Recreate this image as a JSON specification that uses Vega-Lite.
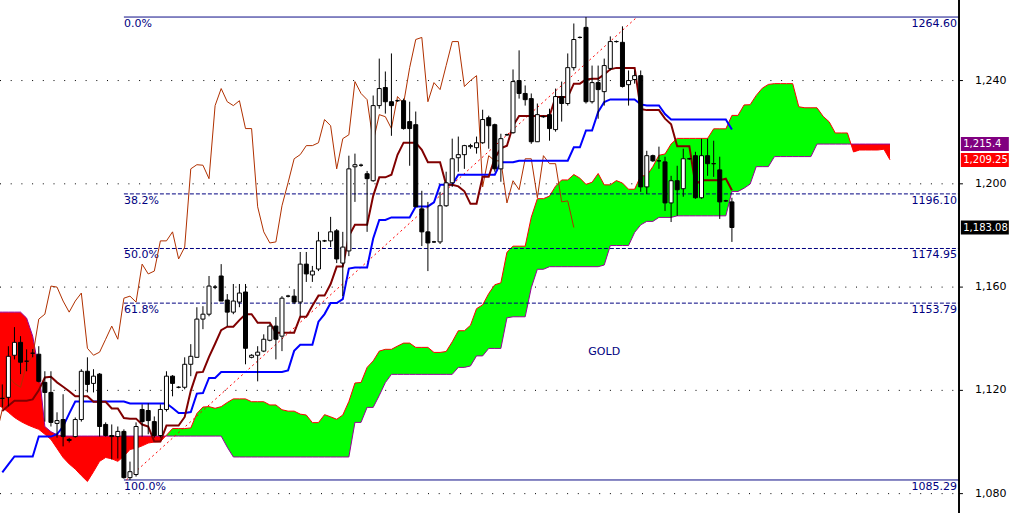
{
"$schema":"https://vega.github.io/schema/vega-lite/v6.json",
"width":959,"height":513,
"autosize":{"type":"none"},
"padding":{"left":0,"top":0,"right":50,"bottom":0},
"background":"white",
"view":{"stroke":null},
"config":{"font":"DejaVu Sans","scale":{"continuousPadding":0}},
"resolve":{"scale":{"color":"independent"}},
"datasets":{
"candles":[
{"i":0,"o":1116.9,"h":1122.3,"l":1113.4,"c":1116.9,"t":1112,"k":1088.2},
{"i":1,"o":1117.3,"h":1137.1,"l":1113.8,"c":1133.2,"t":1114,"k":1091.3},
{"i":2,"o":1133.6,"h":1144.5,"l":1132.0,"c":1138.6,"t":1116,"k":1094.4},
{"i":3,"o":1138.6,"h":1141.0,"l":1126.3,"c":1130.9,"t":1116,"k":1094.4},
{"i":4,"o":1131.3,"h":1135.9,"l":1127.4,"c":1131.3,"t":1116,"k":1094.4},
{"i":5,"o":1134.4,"h":1136.0,"l":1132.8,"c":1134.4,"t":1116.5,"k":1094.4},
{"i":6,"o":1134.0,"h":1137.1,"l":1123.1,"c":1123.5,"t":1120,"k":1102.1},
{"i":7,"o":1123.1,"h":1127.4,"l":1107.9,"c":1119.2,"t":1125,"k":1102.1},
{"i":8,"o":1119.2,"h":1127.4,"l":1106.0,"c":1107.6,"t":1125.25,"k":1102.1},
{"i":9,"o":1107.2,"h":1111.5,"l":1101.7,"c":1108.3,"t":1123.1,"k":1103},
{"i":10,"o":1108.7,"h":1118.5,"l":1098.3,"c":1102.1,"t":1121.4,"k":1106},
{"i":11,"o":1101.0,"h":1101.6,"l":1099.8,"c":1100.6,"t":1119.65,"k":1111},
{"i":12,"o":1102.1,"h":1109.5,"l":1101.7,"c":1108.7,"t":1117.7,"k":1115.7},
{"i":13,"o":1108.7,"h":1128.2,"l":1107.9,"c":1127.4,"t":1117.7,"k":1115.7},
{"i":14,"o":1127.4,"h":1132.8,"l":1119.2,"c":1122.3,"t":1117.7,"k":1115.7},
{"i":15,"o":1122.7,"h":1128.2,"l":1119.2,"c":1125.5,"t":1115.55,"k":1115.7},
{"i":16,"o":1126.3,"h":1126.7,"l":1102.1,"c":1106.0,"t":1115.55,"k":1115.7},
{"i":17,"o":1106.8,"h":1107.6,"l":1102.1,"c":1102.5,"t":1115.55,"k":1115.7},
{"i":18,"o":1102.5,"h":1106.8,"l":1093.2,"c":1102.1,"t":1113.0,"k":1115.7},
{"i":19,"o":1102.1,"h":1106.0,"l":1093.6,"c":1104.1,"t":1113.0,"k":1115.7},
{"i":20,"o":1104.1,"h":1104.9,"l":1085.8,"c":1086.2,"t":1109.3,"k":1115.7},
{"i":21,"o":1086.2,"h":1092.4,"l":1085.29,"c":1088.5,"t":1109.05,"k":1114.9},
{"i":22,"o":1087.4,"h":1107.6,"l":1086.6,"c":1106.0,"t":1109.05,"k":1114.9},
{"i":23,"o":1112.6,"h":1114.6,"l":1102.1,"c":1107.9,"t":1106.75,"k":1114.9},
{"i":24,"o":1112.2,"h":1115.0,"l":1103.0,"c":1108.3,"t":1106.0,"k":1114.9},
{"i":25,"o":1107.9,"h":1109.9,"l":1101.7,"c":1102.5,"t":1100.15,"k":1114.9},
{"i":26,"o":1102.5,"h":1114.6,"l":1101.7,"c":1112.6,"t":1100.15,"k":1114.9},
{"i":27,"o":1112.6,"h":1127.4,"l":1111.8,"c":1125.5,"t":1106.35,"k":1114.9},
{"i":28,"o":1125.5,"h":1125.9,"l":1117.7,"c":1122.7,"t":1106.35,"k":1113.15},
{"i":29,"o":1121.2,"h":1121.6,"l":1120.8,"c":1121.2,"t":1106.35,"k":1111.2},
{"i":30,"o":1121.2,"h":1132.8,"l":1120.4,"c":1130.1,"t":1109.7,"k":1111.2},
{"i":31,"o":1130.1,"h":1137.9,"l":1125.5,"c":1133.2,"t":1119.8,"k":1111.6},
{"i":32,"o":1132.8,"h":1152.2,"l":1132.8,"c":1147.6,"t":1126.95,"k":1118.75},
{"i":33,"o":1147.6,"h":1152.6,"l":1143.7,"c":1149.5,"t":1127.15,"k":1118.95},
{"i":34,"o":1149.5,"h":1164.3,"l":1148.7,"c":1160.4,"t":1133.0,"k":1124.8},
{"i":35,"o":1160.0,"h":1160.8,"l":1159.2,"c":1160.0,"t":1138.05,"k":1124.8},
{"i":36,"o":1164.3,"h":1168.9,"l":1154.6,"c":1154.6,"t":1143.3,"k":1127.1},
{"i":37,"o":1155.0,"h":1157.3,"l":1144.9,"c":1150.3,"t":1144.65,"k":1127.1},
{"i":38,"o":1150.3,"h":1161.2,"l":1149.5,"c":1154.6,"t":1144.65,"k":1127.1},
{"i":39,"o":1154.2,"h":1161.2,"l":1152.2,"c":1157.7,"t":1147.2,"k":1127.1},
{"i":40,"o":1158.1,"h":1161.2,"l":1130.1,"c":1136.3,"t":1149.5,"k":1127.1},
{"i":41,"o":1132.8,"h":1134.0,"l":1132.4,"c":1133.6,"t":1149.5,"k":1127.1},
{"i":42,"o":1133.6,"h":1137.1,"l":1123.5,"c":1134.8,"t":1146.2,"k":1127.1},
{"i":43,"o":1135.2,"h":1141.7,"l":1134.8,"c":1139.8,"t":1146.2,"k":1127.1},
{"i":44,"o":1139.4,"h":1145.6,"l":1139.0,"c":1144.9,"t":1146.2,"k":1127.1},
{"i":45,"o":1144.9,"h":1148.4,"l":1132.0,"c":1139.8,"t":1142.35,"k":1127.1},
{"i":46,"o":1141.0,"h":1156.5,"l":1135.2,"c":1155.7,"t":1142.35,"k":1127.1},
{"i":47,"o":1156.5,"h":1157.0,"l":1156.0,"c":1156.5,"t":1142.35,"k":1127.75},
{"i":48,"o":1156.5,"h":1159.2,"l":1153.4,"c":1154.2,"t":1142.35,"k":1135.3},
{"i":49,"o":1154.2,"h":1173.6,"l":1148.7,"c":1168.9,"t":1148.55,"k":1137.65},
{"i":50,"o":1168.9,"h":1173.6,"l":1162.0,"c":1165.1,"t":1148.55,"k":1137.65},
{"i":51,"o":1164.7,"h":1168.2,"l":1162.0,"c":1166.2,"t":1152.8,"k":1137.65},
{"i":52,"o":1167.0,"h":1181.4,"l":1166.2,"c":1177.9,"t":1156.7,"k":1146.6},
{"i":53,"o":1177.9,"h":1178.3,"l":1177.5,"c":1177.9,"t":1156.7,"k":1149.55},
{"i":54,"o":1177.9,"h":1187.2,"l":1175.5,"c":1181.4,"t":1161.2,"k":1153.8},
{"i":55,"o":1181.8,"h":1182.5,"l":1169.3,"c":1170.9,"t":1167.95,"k":1153.8},
{"i":56,"o":1169.3,"h":1181.4,"l":1156.5,"c":1175.5,"t":1167.95,"k":1155.35},
{"i":57,"o":1174.0,"h":1210.9,"l":1172.0,"c":1205.8,"t":1179.8,"k":1167.2},
{"i":58,"o":1206.6,"h":1211.7,"l":1193.0,"c":1207.4,"t":1184.1,"k":1167.6},
{"i":59,"o":1207.2,"h":1207.8,"l":1206.6,"c":1207.2,"t":1184.1,"k":1167.6},
{"i":60,"o":1203.9,"h":1205.0,"l":1181.4,"c":1202.0,"t":1184.1,"k":1167.6},
{"i":61,"o":1201.2,"h":1234.2,"l":1200.8,"c":1230.3,"t":1195.35,"k":1178.85},
{"i":62,"o":1230.3,"h":1248.5,"l":1229.1,"c":1236.9,"t":1202.5,"k":1186.0},
{"i":63,"o":1237.3,"h":1243.5,"l":1227.2,"c":1231.8,"t":1202.5,"k":1186.0},
{"i":64,"o":1231.8,"h":1250.5,"l":1218.6,"c":1230.3,"t":1203.5,"k":1187.0},
{"i":65,"o":1232.2,"h":1232.6,"l":1231.8,"c":1232.2,"t":1211.25,"k":1187.0},
{"i":66,"o":1232.2,"h":1233.0,"l":1221.0,"c":1221.4,"t":1215.95,"k":1187.0},
{"i":67,"o":1224.1,"h":1231.8,"l":1207.0,"c":1221.4,"t":1215.95,"k":1187.0},
{"i":68,"o":1222.9,"h":1228.0,"l":1191.1,"c":1191.1,"t":1215.95,"k":1191.25},
{"i":69,"o":1190.3,"h":1197.3,"l":1175.9,"c":1181.4,"t":1213.2,"k":1191.25},
{"i":70,"o":1181.4,"h":1193.0,"l":1166.2,"c":1177.1,"t":1208.35,"k":1191.25},
{"i":71,"o":1177.5,"h":1177.9,"l":1177.1,"c":1177.5,"t":1208.35,"k":1192.85},
{"i":72,"o":1177.5,"h":1196.9,"l":1176.7,"c":1191.5,"t":1208.35,"k":1199.6},
{"i":73,"o":1191.5,"h":1204.7,"l":1191.1,"c":1200.4,"t":1199.6,"k":1199.6},
{"i":74,"o":1200.4,"h":1217.5,"l":1198.8,"c":1209.7,"t":1199.6,"k":1199.6},
{"i":75,"o":1210.1,"h":1218.3,"l":1204.7,"c":1211.3,"t":1199.0,"k":1203.5},
{"i":76,"o":1211.3,"h":1215.1,"l":1205.8,"c":1214.8,"t":1197.1,"k":1203.5},
{"i":77,"o":1214.4,"h":1215.5,"l":1213.6,"c":1214.8,"t":1192.25,"k":1203.5},
{"i":78,"o":1214.0,"h":1218.3,"l":1211.7,"c":1215.9,"t":1192.25,"k":1203.5},
{"i":79,"o":1215.9,"h":1228.7,"l":1215.5,"c":1224.9,"t":1202.7,"k":1203.5},
{"i":80,"o":1225.6,"h":1226.4,"l":1213.6,"c":1222.5,"t":1202.7,"k":1203.5},
{"i":81,"o":1222.9,"h":1223.3,"l":1204.7,"c":1205.8,"t":1209.9,"k":1203.5},
{"i":82,"o":1205.8,"h":1219.4,"l":1200.8,"c":1217.5,"t":1213.75,"k":1208.35},
{"i":83,"o":1219.0,"h":1219.4,"l":1218.6,"c":1219.0,"t":1214.75,"k":1208.35},
{"i":84,"o":1219.8,"h":1244.3,"l":1219.4,"c":1239.6,"t":1222.55,"k":1208.35},
{"i":85,"o":1240.0,"h":1251.7,"l":1233.0,"c":1235.0,"t":1226.25,"k":1208.95},
{"i":86,"o":1235.0,"h":1238.1,"l":1230.3,"c":1232.6,"t":1226.25,"k":1208.95},
{"i":87,"o":1233.0,"h":1235.0,"l":1215.5,"c":1216.3,"t":1226.25,"k":1208.95},
{"i":88,"o":1216.3,"h":1231.1,"l":1216.3,"c":1226.8,"t":1226.25,"k":1208.95},
{"i":89,"o":1226.0,"h":1226.4,"l":1225.6,"c":1226.0,"t":1226.25,"k":1208.95},
{"i":90,"o":1226.8,"h":1229.1,"l":1216.7,"c":1221.4,"t":1226.25,"k":1208.95},
{"i":91,"o":1221.0,"h":1236.9,"l":1220.2,"c":1233.8,"t":1233.6,"k":1208.95},
{"i":92,"o":1233.8,"h":1239.6,"l":1224.1,"c":1231.1,"t":1233.6,"k":1208.95},
{"i":93,"o":1231.1,"h":1250.5,"l":1230.3,"c":1245.0,"t":1233.6,"k":1208.95},
{"i":94,"o":1245.0,"h":1262.1,"l":1243.9,"c":1255.9,"t":1238.8,"k":1214.15},
{"i":95,"o":1256.7,"h":1257.1,"l":1256.3,"c":1256.7,"t":1238.8,"k":1214.15},
{"i":96,"o":1260.6,"h":1264.6,"l":1231.1,"c":1231.8,"t":1240.45,"k":1220.65},
{"i":97,"o":1231.8,"h":1245.8,"l":1231.1,"c":1239.2,"t":1240.65,"k":1220.65},
{"i":98,"o":1239.2,"h":1245.8,"l":1225.2,"c":1236.5,"t":1240.65,"k":1227.85},
{"i":99,"o":1235.7,"h":1248.5,"l":1230.3,"c":1245.8,"t":1242.4,"k":1231.7},
{"i":100,"o":1244.7,"h":1257.1,"l":1243.9,"c":1255.1,"t":1244.35,"k":1232.7},
{"i":101,"o":1255.1,"h":1255.5,"l":1254.7,"c":1255.1,"t":1244.9,"k":1232.7},
{"i":102,"o":1254.8,"h":1261.0,"l":1237.3,"c":1237.7,"t":1244.9,"k":1232.7},
{"i":103,"o":1238.4,"h":1243.9,"l":1230.3,"c":1240.0,"t":1244.9,"k":1232.7},
{"i":104,"o":1240.4,"h":1243.9,"l":1238.8,"c":1241.9,"t":1244.9,"k":1232.7},
{"i":105,"o":1241.9,"h":1243.9,"l":1196.9,"c":1198.8,"t":1228.95,"k":1230.75},
{"i":106,"o":1198.8,"h":1212.8,"l":1196.1,"c":1210.9,"t":1228.55,"k":1230.35},
{"i":107,"o":1210.9,"h":1211.3,"l":1208.5,"c":1208.9,"t":1228.55,"k":1230.35},
{"i":108,"o":1208.9,"h":1214.4,"l":1205.8,"c":1208.9,"t":1228.55,"k":1230.35},
{"i":109,"o":1208.5,"h":1210.5,"l":1189.5,"c":1192.6,"t":1225.25,"k":1227.05},
{"i":110,"o":1192.6,"h":1203.1,"l":1185.2,"c":1201.2,"t":1223.1,"k":1224.9},
{"i":111,"o":1201.2,"h":1207.0,"l":1187.6,"c":1197.7,"t":1214.55,"k":1224.9},
{"i":112,"o":1198.1,"h":1213.6,"l":1195.0,"c":1209.7,"t":1214.55,"k":1224.9},
{"i":113,"o":1209.7,"h":1210.1,"l":1209.3,"c":1209.7,"t":1214.55,"k":1224.9},
{"i":114,"o":1210.9,"h":1212.4,"l":1194.2,"c":1194.6,"t":1199.8,"k":1224.9},
{"i":115,"o":1194.6,"h":1217.5,"l":1194.2,"c":1210.9,"t":1201.35,"k":1224.9},
{"i":116,"o":1210.9,"h":1217.5,"l":1203.1,"c":1207.8,"t":1201.35,"k":1224.9},
{"i":117,"o":1207.8,"h":1216.7,"l":1202.7,"c":1207.8,"t":1201.35,"k":1224.9},
{"i":118,"o":1205.4,"h":1210.5,"l":1186.4,"c":1193.0,"t":1201.35,"k":1224.9},
{"i":119,"o":1193.4,"h":1193.8,"l":1193.0,"c":1193.4,"t":1201.95,"k":1224.9},
{"i":120,"o":1193.0,"h":1194.6,"l":1177.5,"c":1183.08,"t":1197.5,"k":1221.05}
],
"chikou":[
{"i":-1,"v":1102.5},{"i":0,"v":1112.6},{"i":1,"v":1125.5},{"i":2,"v":1122.7},{"i":3,"v":1121.2},{"i":4,"v":1130.1},{"i":5,"v":1133.2},{"i":6,"v":1147.6},{"i":7,"v":1149.5},{"i":8,"v":1160.4},{"i":9,"v":1160.0},{"i":10,"v":1154.6},{"i":11,"v":1150.3},{"i":12,"v":1154.6},{"i":13,"v":1157.7},{"i":14,"v":1136.3},{"i":15,"v":1133.6},{"i":16,"v":1134.8},{"i":17,"v":1139.8},{"i":18,"v":1144.9},{"i":19,"v":1139.8},{"i":20,"v":1155.7},{"i":21,"v":1156.5},{"i":22,"v":1154.2},{"i":23,"v":1168.9},{"i":24,"v":1165.1},{"i":25,"v":1166.2},{"i":26,"v":1177.9},{"i":27,"v":1177.9},{"i":28,"v":1181.4},{"i":29,"v":1170.9},{"i":30,"v":1175.5},{"i":31,"v":1205.8},{"i":32,"v":1207.4},{"i":33,"v":1207.2},{"i":34,"v":1202.0},{"i":35,"v":1230.3},{"i":36,"v":1236.9},{"i":37,"v":1231.8},{"i":38,"v":1230.3},{"i":39,"v":1232.2},{"i":40,"v":1221.4},{"i":41,"v":1221.4},{"i":42,"v":1191.1},{"i":43,"v":1181.4},{"i":44,"v":1177.1},{"i":45,"v":1177.5},{"i":46,"v":1191.5},{"i":47,"v":1200.4},{"i":48,"v":1209.7},{"i":49,"v":1211.3},{"i":50,"v":1214.8},{"i":51,"v":1214.8},{"i":52,"v":1215.9},{"i":53,"v":1224.9},{"i":54,"v":1222.5},{"i":55,"v":1205.8},{"i":56,"v":1217.5},{"i":57,"v":1219.0},{"i":58,"v":1239.6},{"i":59,"v":1235.0},{"i":60,"v":1232.6},{"i":61,"v":1216.3},{"i":62,"v":1226.8},{"i":63,"v":1226.0},{"i":64,"v":1221.4},{"i":65,"v":1233.8},{"i":66,"v":1231.1},{"i":67,"v":1245.0},{"i":68,"v":1255.9},{"i":69,"v":1256.7},{"i":70,"v":1231.8},{"i":71,"v":1239.2},{"i":72,"v":1236.5},{"i":73,"v":1245.8},{"i":74,"v":1255.1},{"i":75,"v":1255.1},{"i":76,"v":1237.7},{"i":77,"v":1240.0},{"i":78,"v":1241.9},{"i":79,"v":1198.8},{"i":80,"v":1210.9},{"i":81,"v":1208.9},{"i":82,"v":1208.9},{"i":83,"v":1192.6},{"i":84,"v":1201.2},{"i":85,"v":1197.7},{"i":86,"v":1209.7},{"i":87,"v":1209.7},{"i":88,"v":1194.6},{"i":89,"v":1210.9},{"i":90,"v":1207.8},{"i":91,"v":1207.8},{"i":92,"v":1193.0},{"i":93,"v":1193.4},{"i":94,"v":1183.08}
],
"cloud":[
{"i":-1,"a":1114.5,"b":1150.3,"seg":"r1"},{"i":0,"a":1113.4,"b":1150.3,"seg":"r1"},{"i":1,"a":1111.5,"b":1150.3,"seg":"r1"},{"i":2,"a":1109.5,"b":1150.3,"seg":"r1"},{"i":3,"a":1108.0,"b":1150.3,"seg":"r1"},{"i":4,"a":1106.8,"b":1148.0,"seg":"r1"},{"i":5,"a":1105.8,"b":1141.0,"seg":"r1"},{"i":6,"a":1104.9,"b":1128.0,"seg":"r1"},{"i":7,"a":1103.0,"b":1106.0,"seg":"r1"},{"i":8,"a":1101.0,"b":1104.0,"seg":"r1"},{"i":9,"a":1097.5,"b":1102.8,"seg":"r1"},{"i":10,"a":1094.0,"b":1102.3,"seg":"r1"},{"i":11,"a":1091.5,"b":1102.3,"seg":"r1"},{"i":12,"a":1089.5,"b":1102.3,"seg":"r1"},{"i":13,"a":1087.0,"b":1102.3,"seg":"r1"},{"i":14,"a":1084.7,"b":1102.3,"seg":"r1"},{"i":15,"a":1088.5,"b":1102.3,"seg":"r1"},{"i":16,"a":1092.5,"b":1102.3,"seg":"r1"},{"i":17,"a":1094.0,"b":1102.3,"seg":"r1"},{"i":18,"a":1093.5,"b":1102.3,"seg":"r1"},{"i":19,"a":1092.5,"b":1102.3,"seg":"r1"},{"i":20,"a":1094.5,"b":1102.3,"seg":"r1"},{"i":21,"a":1097.1,"b":1102.3,"seg":"r1"},{"i":22,"a":1097.6,"b":1102.3,"seg":"r1"},{"i":23,"a":1098.5,"b":1102.3,"seg":"r1"},{"i":24,"a":1099.6,"b":1102.3,"seg":"r1"},{"i":25,"a":1100.0,"b":1102.3,"seg":"r1"},{"i":26,"a":1100.1,"b":1102.3,"seg":"r1"},{"i":26.86,"a":1102.3,"b":1102.3,"seg":"r1"},
{"i":26.86,"a":1102.3,"b":1102.3,"seg":"g"},{"i":27,"a":1102.65,"b":1102.3,"seg":"g"},{"i":28,"a":1105.2,"b":1102.3,"seg":"g"},{"i":29,"a":1105.2,"b":1102.3,"seg":"g"},{"i":30,"a":1105.2,"b":1102.3,"seg":"g"},{"i":31,"a":1105.45,"b":1102.3,"seg":"g"},{"i":32,"a":1111.05,"b":1102.3,"seg":"g"},{"i":33,"a":1113.55,"b":1102.3,"seg":"g"},{"i":34,"a":1113.7,"b":1102.3,"seg":"g"},{"i":35,"a":1113.05,"b":1102.3,"seg":"g"},{"i":36,"a":1113.7,"b":1102.3,"seg":"g"},{"i":37,"a":1115.3,"b":1098.0,"seg":"g"},{"i":38,"a":1116.7,"b":1094.2,"seg":"g"},{"i":39,"a":1116.7,"b":1094.2,"seg":"g"},{"i":40,"a":1116.7,"b":1094.2,"seg":"g"},{"i":41,"a":1115.6,"b":1094.2,"seg":"g"},{"i":42,"a":1115.6,"b":1094.2,"seg":"g"},{"i":43,"a":1115.6,"b":1094.2,"seg":"g"},{"i":44,"a":1114.35,"b":1094.2,"seg":"g"},{"i":45,"a":1114.35,"b":1094.2,"seg":"g"},{"i":46,"a":1112.5,"b":1094.2,"seg":"g"},{"i":47,"a":1111.95,"b":1094.2,"seg":"g"},{"i":48,"a":1111.95,"b":1094.2,"seg":"g"},{"i":49,"a":1110.8,"b":1094.2,"seg":"g"},{"i":50,"a":1110.45,"b":1094.2,"seg":"g"},{"i":51,"a":1107.5,"b":1094.2,"seg":"g"},{"i":52,"a":1107.5,"b":1094.2,"seg":"g"},{"i":53,"a":1110.6,"b":1094.2,"seg":"g"},{"i":54,"a":1109.75,"b":1094.2,"seg":"g"},{"i":55,"a":1108.8,"b":1094.2,"seg":"g"},{"i":56,"a":1110.45,"b":1094.2,"seg":"g"},{"i":57,"a":1115.7,"b":1094.2,"seg":"g"},{"i":58,"a":1122.85,"b":1107.6,"seg":"g"},{"i":59,"a":1123.05,"b":1107.6,"seg":"g"},{"i":60,"a":1128.9,"b":1113.4,"seg":"g"},{"i":61,"a":1131.4,"b":1113.4,"seg":"g"},{"i":62,"a":1135.2,"b":1118.0,"seg":"g"},{"i":63,"a":1135.9,"b":1123.0,"seg":"g"},{"i":64,"a":1135.9,"b":1126.2,"seg":"g"},{"i":65,"a":1137.15,"b":1126.2,"seg":"g"},{"i":66,"a":1138.3,"b":1126.2,"seg":"g"},{"i":67,"a":1138.3,"b":1126.2,"seg":"g"},{"i":68,"a":1136.65,"b":1126.2,"seg":"g"},{"i":69,"a":1136.65,"b":1126.2,"seg":"g"},{"i":70,"a":1136.65,"b":1126.2,"seg":"g"},{"i":71,"a":1134.7,"b":1126.2,"seg":"g"},{"i":72,"a":1134.7,"b":1126.2,"seg":"g"},{"i":73,"a":1135.05,"b":1126.2,"seg":"g"},{"i":74,"a":1138.8,"b":1126.2,"seg":"g"},{"i":75,"a":1143.1,"b":1128.9,"seg":"g"},{"i":76,"a":1143.1,"b":1128.9,"seg":"g"},{"i":77,"a":1145.2,"b":1129.45,"seg":"g"},{"i":78,"a":1151.65,"b":1133.35,"seg":"g"},{"i":79,"a":1153.1,"b":1133.35,"seg":"g"},{"i":80,"a":1157.5,"b":1136.25,"seg":"g"},{"i":81,"a":1160.9,"b":1136.25,"seg":"g"},{"i":82,"a":1161.65,"b":1136.25,"seg":"g"},{"i":83,"a":1173.5,"b":1148.1,"seg":"g"},{"i":84,"a":1175.85,"b":1148.5,"seg":"g"},{"i":85,"a":1175.85,"b":1148.5,"seg":"g"},{"i":86,"a":1175.85,"b":1148.5,"seg":"g"},{"i":87,"a":1187.1,"b":1159.75,"seg":"g"},{"i":88,"a":1194.25,"b":1166.9,"seg":"g"},{"i":89,"a":1194.25,"b":1166.9,"seg":"g"},{"i":90,"a":1195.25,"b":1167.9,"seg":"g"},{"i":91,"a":1199.1,"b":1167.9,"seg":"g"},{"i":92,"a":1201.5,"b":1167.9,"seg":"g"},{"i":93,"a":1201.5,"b":1167.9,"seg":"g"},{"i":94,"a":1203.6,"b":1167.9,"seg":"g"},{"i":95,"a":1202.2,"b":1167.9,"seg":"g"},{"i":96,"a":1199.8,"b":1167.9,"seg":"g"},{"i":97,"a":1200.6,"b":1167.9,"seg":"g"},{"i":98,"a":1204.0,"b":1167.9,"seg":"g"},{"i":99,"a":1199.6,"b":1168.55,"seg":"g"},{"i":100,"a":1199.6,"b":1176.1,"seg":"g"},{"i":101,"a":1201.25,"b":1176.1,"seg":"g"},{"i":102,"a":1200.3,"b":1176.1,"seg":"g"},{"i":103,"a":1197.9,"b":1176.1,"seg":"g"},{"i":104,"a":1197.9,"b":1181.15,"seg":"g"},{"i":105,"a":1203.1,"b":1184.1,"seg":"g"},{"i":106,"a":1203.1,"b":1185.45,"seg":"g"},{"i":107,"a":1206.7,"b":1185.45,"seg":"g"},{"i":108,"a":1211.05,"b":1187.0,"seg":"g"},{"i":109,"a":1211.55,"b":1187.0,"seg":"g"},{"i":110,"a":1215.45,"b":1187.0,"seg":"g"},{"i":111,"a":1217.6,"b":1187.6,"seg":"g"},{"i":112,"a":1217.6,"b":1187.6,"seg":"g"},{"i":113,"a":1217.6,"b":1187.6,"seg":"g"},{"i":114,"a":1217.6,"b":1187.6,"seg":"g"},{"i":115,"a":1217.6,"b":1187.6,"seg":"g"},{"i":116,"a":1217.6,"b":1187.6,"seg":"g"},{"i":117,"a":1221.3,"b":1187.6,"seg":"g"},{"i":118,"a":1221.3,"b":1187.6,"seg":"g"},{"i":119,"a":1221.3,"b":1187.6,"seg":"g"},{"i":120,"a":1226.5,"b":1197.05,"seg":"g"},{"i":121,"a":1226.5,"b":1197.05,"seg":"g"},{"i":122,"a":1230.55,"b":1198.3,"seg":"g"},{"i":123,"a":1230.65,"b":1199.9,"seg":"g"},{"i":124,"a":1234.25,"b":1206.65,"seg":"g"},{"i":125,"a":1237.05,"b":1206.65,"seg":"g"},{"i":126,"a":1238.5,"b":1206.65,"seg":"g"},{"i":127,"a":1238.8,"b":1210.55,"seg":"g"},{"i":128,"a":1238.8,"b":1210.55,"seg":"g"},{"i":129,"a":1238.8,"b":1210.55,"seg":"g"},{"i":130,"a":1238.8,"b":1210.55,"seg":"g"},{"i":131,"a":1229.85,"b":1210.55,"seg":"g"},{"i":132,"a":1229.45,"b":1210.55,"seg":"g"},{"i":133,"a":1229.45,"b":1210.55,"seg":"g"},{"i":134,"a":1229.45,"b":1215.4,"seg":"g"},{"i":135,"a":1226.15,"b":1215.4,"seg":"g"},{"i":136,"a":1224.0,"b":1215.4,"seg":"g"},{"i":137,"a":1219.7,"b":1215.4,"seg":"g"},{"i":138,"a":1219.7,"b":1215.4,"seg":"g"},{"i":139,"a":1219.7,"b":1215.4,"seg":"g"},{"i":139.585,"a":1215.4,"b":1215.4,"seg":"g"},
{"i":139.585,"a":1215.4,"b":1215.4,"seg":"r2"},{"i":140,"a":1212.35,"b":1215.4,"seg":"r2"},{"i":141,"a":1213.1,"b":1215.4,"seg":"r2"},{"i":142,"a":1213.1,"b":1215.4,"seg":"r2"},{"i":143,"a":1213.1,"b":1215.4,"seg":"r2"},{"i":144,"a":1213.1,"b":1215.4,"seg":"r2"},{"i":145,"a":1213.4,"b":1215.4,"seg":"r2"},{"i":146,"a":1209.3,"b":1215.4,"seg":"r2"}
],
"fib":[
{"v":1264.6,"pct":"0.0%","lab":"1264.60","kind":"solid"},
{"v":1196.1,"pct":"38.2%","lab":"1196.10","kind":"dash"},
{"v":1174.95,"pct":"50.0%","lab":"1174.95","kind":"dash"},
{"v":1153.79,"pct":"61.8%","lab":"1153.79","kind":"dash"},
{"v":1085.29,"pct":"100.0%","lab":"1085.29","kind":"solid"}
],
"trend":[{"i":20.4,"v":1085.29},{"i":104.4,"v":1264.6}],
"grid":[{"v":1080},{"v":1120},{"v":1160},{"v":1200},{"v":1240}],
"tags":[
{"v":1215.4,"lab":"1,215.4","col":"p"},
{"v":1209.25,"lab":"1,209.25","col":"r"},
{"v":1183.08,"lab":"1,183.08","col":"k"}
],
"title":[{"name":"GOLD"}]
},
"layer":[
{"data":{"name":"grid"},
 "mark":{"type":"rule","color":"#000000","strokeWidth":1,"strokeDash":[1,9.7]},
 "encoding":{
  "x":{"datum":-0.378,"type":"quantitative","scale":{"domain":[-0.378,157.35],"nice":false,"zero":false,"padding":0},"axis":null},
  "x2":{"datum":157.35},
  "y":{"field":"v","type":"quantitative","scale":{"domain":[1072.5,1271.2],"nice":false,"zero":false,"padding":0},"axis":null}
 }},
{"data":{"name":"cloud"},
 "mark":{"type":"area","clip":true,"interpolate":"linear","opacity":1},
 "encoding":{
  "x":{"field":"i","type":"quantitative","scale":{"domain":[-0.378,157.35],"nice":false,"zero":false,"padding":0},"axis":null},
  "y":{"field":"a","type":"quantitative","stack":null,"scale":{"domain":[1072.5,1271.2],"nice":false,"zero":false,"padding":0},"axis":null},
  "y2":{"field":"b"},
  "color":{"field":"seg","type":"nominal","scale":{"domain":["r1","g","r2"],"range":["#FF0000","#00FF00","#FF0000"]},"legend":null}
 }},
{"data":{"name":"cloud"},
 "mark":{"type":"line","clip":true,"color":"#990099","strokeWidth":1},
 "encoding":{
  "x":{"field":"i","type":"quantitative","scale":{"domain":[-0.378,157.35],"nice":false,"zero":false,"padding":0},"axis":null},
  "y":{"field":"b","type":"quantitative","scale":{"domain":[1072.5,1271.2],"nice":false,"zero":false,"padding":0},"axis":null}
 }},
{"data":{"name":"cloud"},
 "mark":{"type":"line","clip":true,"color":"#FF0000","strokeWidth":1},
 "encoding":{
  "x":{"field":"i","type":"quantitative","scale":{"domain":[-0.378,157.35],"nice":false,"zero":false,"padding":0},"axis":null},
  "y":{"field":"a","type":"quantitative","scale":{"domain":[1072.5,1271.2],"nice":false,"zero":false,"padding":0},"axis":null}
 }},
{"data":{"name":"fib"},
 "mark":{"type":"rule","color":"#000080","strokeWidth":1},
 "encoding":{
  "x":{"datum":20,"type":"quantitative","scale":{"domain":[-0.378,157.35],"nice":false,"zero":false,"padding":0},"axis":null},
  "x2":{"datum":157.35},
  "y":{"field":"v","type":"quantitative","scale":{"domain":[1072.5,1271.2],"nice":false,"zero":false,"padding":0},"axis":null},
  "strokeDash":{"field":"kind","type":"nominal","scale":{"domain":["solid","dash"],"range":[[1,0],[4,2]]},"legend":null}
 }},
{"data":{"name":"fib"},
 "mark":{"type":"text","align":"left","baseline":"top","dy":1,"color":"#000080","font":"DejaVu Sans","fontSize":11},
 "encoding":{
  "x":{"datum":20,"type":"quantitative","scale":{"domain":[-0.378,157.35],"nice":false,"zero":false,"padding":0},"axis":null},
  "y":{"field":"v","type":"quantitative","scale":{"domain":[1072.5,1271.2],"nice":false,"zero":false,"padding":0},"axis":null},
  "text":{"field":"pct"}
 }},
{"data":{"name":"fib"},
 "mark":{"type":"text","align":"right","baseline":"top","dy":1,"dx":-2,"color":"#000080","font":"DejaVu Sans","fontSize":11},
 "encoding":{
  "x":{"datum":157.35,"type":"quantitative","scale":{"domain":[-0.378,157.35],"nice":false,"zero":false,"padding":0},"axis":null},
  "y":{"field":"v","type":"quantitative","scale":{"domain":[1072.5,1271.2],"nice":false,"zero":false,"padding":0},"axis":null},
  "text":{"field":"lab"}
 }},
{"data":{"name":"trend"},
 "mark":{"type":"line","color":"#FF0000","strokeWidth":1,"strokeDash":[2,3]},
 "encoding":{
  "x":{"field":"i","type":"quantitative","scale":{"domain":[-0.378,157.35],"nice":false,"zero":false,"padding":0},"axis":null},
  "y":{"field":"v","type":"quantitative","scale":{"domain":[1072.5,1271.2],"nice":false,"zero":false,"padding":0},"axis":null}
 }},
{"data":{"name":"chikou"},
 "mark":{"type":"line","clip":true,"color":"#B03000","strokeWidth":1},
 "encoding":{
  "x":{"field":"i","type":"quantitative","scale":{"domain":[-0.378,157.35],"nice":false,"zero":false,"padding":0},"axis":null},
  "y":{"field":"v","type":"quantitative","scale":{"domain":[1072.5,1271.2],"nice":false,"zero":false,"padding":0},"axis":null}
 }},
{"data":{"name":"candles"},
 "mark":{"type":"line","color":"#0000FF","strokeWidth":2},
 "encoding":{
  "x":{"field":"i","type":"quantitative","scale":{"domain":[-0.378,157.35],"nice":false,"zero":false,"padding":0},"axis":null},
  "y":{"field":"k","type":"quantitative","scale":{"domain":[1072.5,1271.2],"nice":false,"zero":false,"padding":0},"axis":null}
 }},
{"data":{"name":"candles"},
 "mark":{"type":"line","color":"#800000","strokeWidth":2},
 "encoding":{
  "x":{"field":"i","type":"quantitative","scale":{"domain":[-0.378,157.35],"nice":false,"zero":false,"padding":0},"axis":null},
  "y":{"field":"t","type":"quantitative","scale":{"domain":[1072.5,1271.2],"nice":false,"zero":false,"padding":0},"axis":null}
 }},
{"data":{"name":"candles"},
 "mark":{"type":"rule","color":"#000000","strokeWidth":1},
 "encoding":{
  "x":{"field":"i","type":"quantitative","scale":{"domain":[-0.378,157.35],"nice":false,"zero":false,"padding":0},"axis":null},
  "y":{"field":"l","type":"quantitative","scale":{"domain":[1072.5,1271.2],"nice":false,"zero":false,"padding":0},"axis":null},
  "y2":{"field":"h"}
 }},
{"data":{"name":"candles"},
 "mark":{"type":"bar","size":4,"stroke":"#000000","strokeWidth":1,"orient":"vertical"},
 "encoding":{
  "x":{"field":"i","type":"quantitative","scale":{"domain":[-0.378,157.35],"nice":false,"zero":false,"padding":0},"axis":null},
  "y":{"field":"o","type":"quantitative","scale":{"domain":[1072.5,1271.2],"nice":false,"zero":false,"padding":0},"axis":null},
  "y2":{"field":"c"},
  "fill":{"condition":{"test":"datum.c >= datum.o","value":"#FFFFFF"},"value":"#000000"}
 }},
{"data":{"name":"title"},
 "mark":{"type":"text","align":"center","baseline":"middle","color":"#000080","font":"DejaVu Sans","fontSize":11},
 "encoding":{
  "x":{"datum":99,"type":"quantitative","scale":{"domain":[-0.378,157.35],"nice":false,"zero":false,"padding":0},"axis":null},
  "y":{"datum":1134.8,"type":"quantitative","scale":{"domain":[1072.5,1271.2],"nice":false,"zero":false,"padding":0},"axis":null},
  "text":{"field":"name"}
 }},
{"data":{"name":"grid"},
 "mark":{"type":"rule","color":"#000000","strokeWidth":1},
 "encoding":{
  "x":{"datum":157.35,"type":"quantitative","scale":{"domain":[-0.378,157.35],"nice":false,"zero":false,"padding":0},"axis":null},
  "y":{"datum":1072.5,"type":"quantitative","scale":{"domain":[1072.5,1271.2],"nice":false,"zero":false,"padding":0},"axis":null},
  "y2":{"datum":1271.2}
 }},
{"data":{"name":"grid"},
 "mark":{"type":"rule","color":"#000000","strokeWidth":1},
 "encoding":{
  "x":{"datum":157.35,"type":"quantitative","scale":{"domain":[-0.378,157.35],"nice":false,"zero":false,"padding":0},"axis":null},
  "x2":{"datum":158.0},
  "y":{"field":"v","type":"quantitative","scale":{"domain":[1072.5,1271.2],"nice":false,"zero":false,"padding":0},"axis":null}
 }},
{"data":{"name":"grid"},
 "mark":{"type":"text","align":"left","baseline":"middle","color":"#000000","font":"DejaVu Sans","fontSize":11},
 "encoding":{
  "x":{"datum":159.98,"type":"quantitative","scale":{"domain":[-0.378,157.35],"nice":false,"zero":false,"padding":0},"axis":null},
  "y":{"field":"v","type":"quantitative","scale":{"domain":[1072.5,1271.2],"nice":false,"zero":false,"padding":0},"axis":null},
  "text":{"field":"v","type":"quantitative","format":",d"}
 }},
{"data":{"name":"tags"},
 "mark":{"type":"tick","orient":"horizontal","size":48,"thickness":14,"opacity":1},
 "encoding":{
  "x":{"datum":161.6,"type":"quantitative","scale":{"domain":[-0.378,157.35],"nice":false,"zero":false,"padding":0},"axis":null},
  "y":{"field":"v","type":"quantitative","scale":{"domain":[1072.5,1271.2],"nice":false,"zero":false,"padding":0},"axis":null},
  "color":{"field":"col","type":"nominal","scale":{"domain":["p","r","k"],"range":["#800080","#FF0000","#000000"]},"legend":null}
 }},
{"data":{"name":"tags"},
 "mark":{"type":"text","align":"left","baseline":"middle","color":"#FFFFFF","font":"DejaVu Sans","fontSize":10},
 "encoding":{
  "x":{"datum":158.05,"type":"quantitative","scale":{"domain":[-0.378,157.35],"nice":false,"zero":false,"padding":0},"axis":null},
  "y":{"field":"v","type":"quantitative","scale":{"domain":[1072.5,1271.2],"nice":false,"zero":false,"padding":0},"axis":null},
  "text":{"field":"lab"}
 }}
]
}
